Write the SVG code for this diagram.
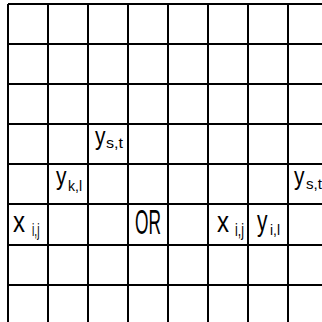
<svg xmlns="http://www.w3.org/2000/svg" width="322" height="322" viewBox="0 0 322 322">
<style>
.g{stroke:#000;stroke-width:2;fill:none}
text{font-family:"Liberation Sans",Arial,sans-serif;fill:#000}
</style>
<rect width="322" height="322" fill="#fff"/>
<g id="grid" class="g">
<path d="M8,4V322M48,4V322M88,4V322M128,4V322M168,4V322M208,4V322M248,4V322M288,4V322"/>
<path d="M8,4H322M8,44H322M8,84H322M8,124H322M8,164H322M8,204H322M8,245H322M8,285H322"/>
</g>
<g id="labels">
<g id="y-st-1"><text x="95" y="144.5" font-size="26" textLength="10.5" lengthAdjust="spacingAndGlyphs">y</text><text x="106" y="148" font-size="14" textLength="17" lengthAdjust="spacingAndGlyphs">s,t</text></g>
<g id="y-kl"><text x="56" y="184.5" font-size="26" textLength="10.5" lengthAdjust="spacingAndGlyphs">y</text><text x="68" y="191" font-size="15" textLength="14" lengthAdjust="spacingAndGlyphs">k,l</text></g>
<g id="y-st-2"><text x="294" y="184.5" font-size="26" textLength="10.5" lengthAdjust="spacingAndGlyphs">y</text><text x="306" y="189" font-size="15" textLength="16" lengthAdjust="spacingAndGlyphs">s,t</text></g>
<g id="x-ij-1"><text x="13" y="232" font-size="30" textLength="12" lengthAdjust="spacingAndGlyphs">x</text><text x="32" y="236" font-size="19" textLength="7.5" lengthAdjust="spacingAndGlyphs">i,j</text></g>
<g id="or"><text x="135" y="234" font-size="35" textLength="26" lengthAdjust="spacingAndGlyphs">OR</text></g>
<g id="x-ij-2"><text x="217" y="232" font-size="30" textLength="12" lengthAdjust="spacingAndGlyphs">x</text><text x="235" y="236" font-size="19" textLength="9" lengthAdjust="spacingAndGlyphs">i,j</text></g>
<g id="y-il"><text x="257" y="231" font-size="29" textLength="10.5" lengthAdjust="spacingAndGlyphs">y</text><text x="270" y="235" font-size="14" textLength="10" lengthAdjust="spacingAndGlyphs">i,l</text></g>
</g>
</svg>
